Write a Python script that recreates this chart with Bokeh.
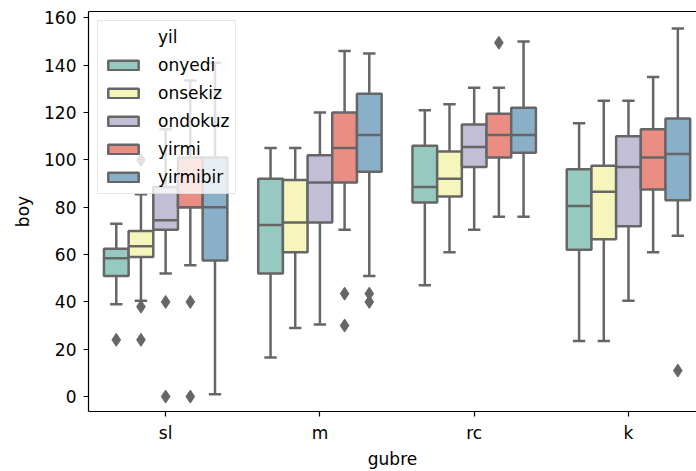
from bokeh.plotting import figure
from bokeh.models import FixedTicker, Legend, LegendItem, LinearAxis, Range1d
from bokeh.embed import file_html
from bokeh.resources import INLINE

groups = ["sl", "m", "rc", "k"]
years = ["onyedi", "onsekiz", "ondokuz", "yirmi", "yirmibir"]
colors = ["#96cac1", "#f6f6bc", "#c1bed6", "#ea8e83", "#8aafc8"]
y_ticks = [0, 20, 40, 60, 80, 100, 120, 140, 160]

# five-number summaries per gubre group: [whisker_low, q1, median, q3, whisker_high]
onyedi = [[39, 51, 58.5, 62.5, 73], [16.5, 52, 72.5, 92, 105],
          [47, 82, 88.5, 106, 121], [23.5, 62, 80.5, 96, 115.5]]
onsekiz = [[40.5, 59, 63.5, 70, 85.5], [29, 61, 73.5, 91.5, 105],
           [61, 84.5, 92, 103.5, 123.5], [23.5, 66.5, 86.5, 97.5, 125]]
ondokuz = [[52, 70.5, 74.5, 88.5, 113], [30.5, 73.5, 90.5, 102, 120],
           [70.5, 97, 105.5, 115, 130.5], [40.5, 72, 97, 110, 125]]
yirmi = [[55.5, 80, 80, 101, 133.5], [70.5, 90.5, 105, 120, 146],
         [76, 101, 110.5, 119.5, 130.5], [61, 87.5, 101, 113, 135]]
yirmibir = [[1, 57.5, 80, 101, 141], [51, 95, 110.5, 128, 145],
            [76, 103, 110.5, 122, 150], [68, 83, 102.5, 117.5, 155.5]]

# outliers: (group index, value)
onyedi_out = [(0, 24)]
onsekiz_out = [(0, 38), (0, 24), (0, 100)]
ondokuz_out = [(0, 40), (0, 0)]
yirmi_out = [(0, 40), (0, 0), (1, 43.5), (1, 30), (2, 149.5)]
yirmibir_out = [(1, 43.5), (1, 40), (3, 11)]

stats = [onyedi, onsekiz, ondokuz, yirmi, yirmibir]
outs = [onyedi_out, onsekiz_out, ondokuz_out, yirmi_out, yirmibir_out]

GRAY = "#666666"
LW = 2.5
FONT = "DejaVu Sans"
FS = "17px"
BW = 0.16

p = figure(width=696, height=471, x_range=Range1d(-0.5, 3.441), y_range=Range1d(-6.3, 162.7),
           output_backend="svg", toolbar_location=None,
           min_border_left=88, min_border_right=0, min_border_top=11, min_border_bottom=60)
p.xgrid.visible = False
p.ygrid.visible = False
p.outline_line_color = None
p.background_fill_color = "white"

box_renderers = []
for hi, (name, col, st, ol) in enumerate(zip(years, colors, stats, outs)):
    xs = [gi + (hi - 2) * BW for gi in range(len(groups))]
    lo = [s[0] for s in st]
    q1 = [s[1] for s in st]
    md = [s[2] for s in st]
    q3 = [s[3] for s in st]
    hi_ = [s[4] for s in st]
    # whiskers
    p.segment(x0=xs, x1=xs, y0=q3, y1=hi_, line_color=GRAY, line_width=LW)
    p.segment(x0=xs, x1=xs, y0=q1, y1=lo, line_color=GRAY, line_width=LW)
    # caps
    p.segment(x0=[x - BW / 4 for x in xs], x1=[x + BW / 4 for x in xs], y0=hi_, y1=hi_,
              line_color=GRAY, line_width=LW)
    p.segment(x0=[x - BW / 4 for x in xs], x1=[x + BW / 4 for x in xs], y0=lo, y1=lo,
              line_color=GRAY, line_width=LW)
    # boxes
    r = p.vbar(x=xs, width=BW, bottom=q1, top=q3, fill_color=col, line_color=GRAY, line_width=LW)
    box_renderers.append(r)
    # medians
    p.segment(x0=[x - BW / 2 for x in xs], x1=[x + BW / 2 for x in xs], y0=md, y1=md,
              line_color=GRAY, line_width=LW)
    # outliers
    if ol:
        ox = [g + (hi - 2) * BW for g, v in ol]
        oy = [v for g, v in ol]
        p.scatter(x=ox, y=oy, marker="diamond", size=13, fill_color=GRAY, line_color=GRAY)

dummy = p.vbar(x=[], width=0.1, top=[], fill_alpha=0, line_alpha=0)

items = [LegendItem(label="yil", renderers=[dummy])]
items += [LegendItem(label=y, renderers=[r]) for y, r in zip(years, box_renderers)]
legend = Legend(items=items, location="top_left", margin=9, padding=6, spacing=8,
                glyph_width=38, glyph_height=12, label_standoff=16, label_height=20,
                label_text_font=FONT, label_text_font_size=FS, label_text_color="#000000",
                background_fill_color="white", background_fill_alpha=0.8,
                border_line_color="#cccccc", border_line_width=1)
p.add_layout(legend, "center")

# axes styling
for ax in (p.xaxis[0], p.yaxis[0]):
    ax.axis_line_color = "#000000"
    ax.axis_line_width = 1.2
    ax.major_tick_line_color = "#000000"
    ax.major_tick_line_width = 1.2
    ax.major_tick_out = 5
    ax.major_tick_in = 0
    ax.minor_tick_out = 0
    ax.minor_tick_in = 0
    ax.major_label_text_font = FONT
    ax.major_label_text_font_size = FS
    ax.major_label_text_color = "#000000"
    ax.axis_label_text_font = FONT
    ax.axis_label_text_font_size = FS
    ax.axis_label_text_font_style = "normal"
    ax.axis_label_text_color = "#000000"

p.yaxis[0].ticker = FixedTicker(ticks=y_ticks)
p.yaxis[0].axis_label = "boy"
p.yaxis[0].major_label_standoff = 7
p.yaxis[0].axis_label_standoff = 8

p.xaxis[0].ticker = FixedTicker(ticks=list(range(len(groups))))
p.xaxis[0].major_label_overrides = {i: g for i, g in enumerate(groups)}
p.xaxis[0].axis_label = "gubre"
p.xaxis[0].major_label_standoff = 6
p.xaxis[0].axis_label_standoff = 3

top_axis = LinearAxis(axis_line_color="#000000", axis_line_width=1.2,
                      major_tick_out=0, major_tick_in=0, minor_tick_out=0, minor_tick_in=0,
                      major_label_text_font_size="0px", major_label_text_alpha=0,
                      ticker=FixedTicker(ticks=[]))
p.add_layout(top_axis, "above")

open("out.html", "w").write(file_html(p, INLINE))
